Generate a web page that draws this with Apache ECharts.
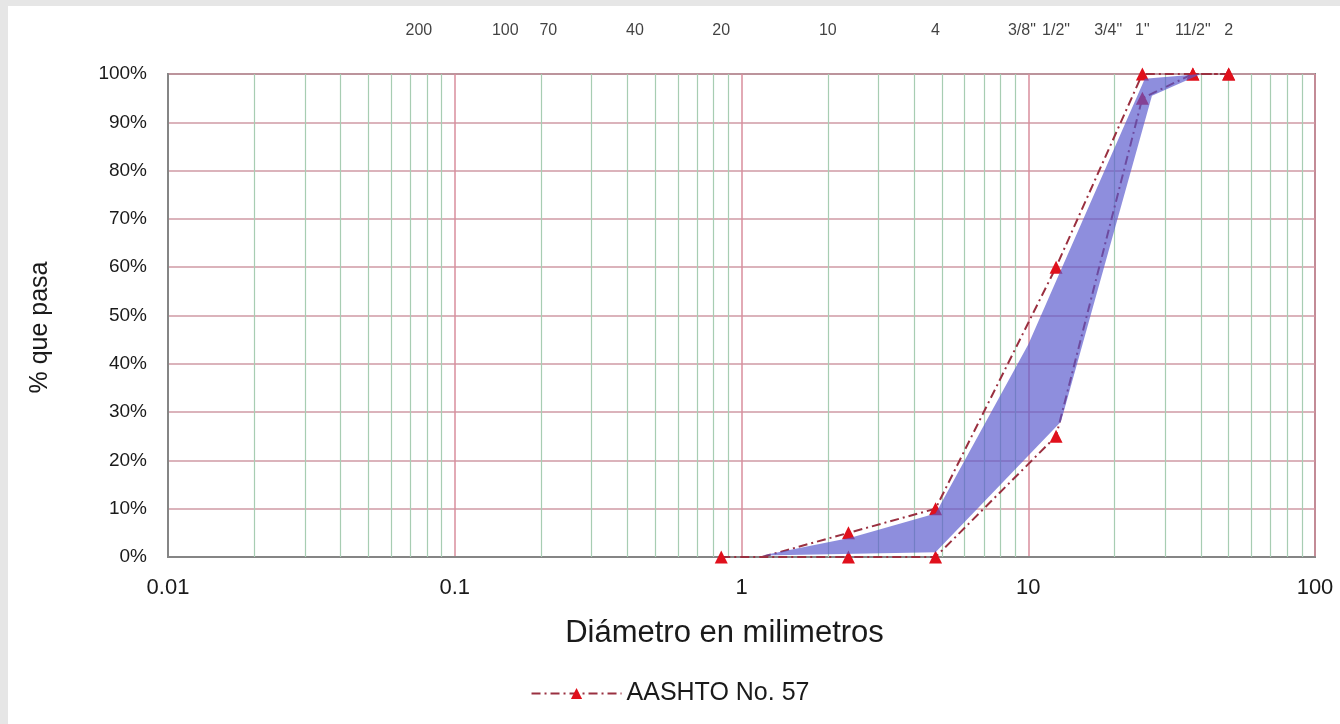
<!DOCTYPE html>
<html>
<head>
<meta charset="utf-8">
<script src="https://cdn.jsdelivr.net/npm/echarts@6/dist/echarts.min.js"></script>
<style>
  html, body { margin: 0; padding: 0; width: 1340px; height: 724px; background: #e6e6e6; overflow: hidden; }
  #paper { position: absolute; left: 8px; top: 6px; right: 0; bottom: 0; background: #ffffff; }
  #chart { position: absolute; left: 0; top: 0; width: 1340px; height: 724px; }
</style>
</head>
<body>
<div id="paper"></div>
<div id="chart"></div>
<script>
// ---- data ----
const sieveSizes  = [0.075, 0.15, 0.212, 0.425, 0.85, 2.0, 4.75, 9.5, 12.5, 19, 25, 37.5, 50];
const sieveLabels = ['200', '100', '70', '40', '20', '10', '4', '3/8"', '1/2"', '3/4"', '1"', '11/2"', '2'];

const upperX = [1.18, 2.36, 4.75, 12.5, 25, 37.5, 50];
const upperY = [0, 5, 10, 60, 100, 100, 100];
const lowerX = [0.85, 2.36, 4.75, 12.5, 25, 37.5, 50];
const lowerY = [0, 0, 0, 25, 95, 100, 100];

// shaded band (material gradation envelope)
const bandX = [1.18, 2.4, 4.75, 10, 25.5, 40, 27, 13, 4.75];
const bandY = [0.3, 4, 9, 44, 99, 100, 95.5, 28, 1];

const minorTicks = [];
[0.01, 0.1, 1, 10].forEach(function (d) {
  for (let k = 2; k <= 9; k++) minorTicks.push(+(d * k).toPrecision(6));
});

function pairs(xs, ys) { return xs.map(function (x, i) { return [x, ys[i]]; }); }

const FONT = 'Liberation Sans, Arial, sans-serif';
const lineColor = '#9a3040';
const markColor = '#e0101c';

const chart = echarts.init(document.getElementById('chart'), null, { renderer: 'canvas' });

const upperData = pairs(upperX, upperY).map(function (p, i) {
  return i === 0 ? { value: p, symbol: 'none' } : { value: p };
});

const option = {
  backgroundColor: 'transparent',
  animation: false,
  textStyle: { fontFamily: FONT },
  grid: [
    { left: 168, right: 25, top: 74, bottom: 167, show: true, borderColor: '#858585', borderWidth: 2, backgroundColor: 'transparent' },
    { left: 168, right: 25, top: 18, height: 26, show: false }
  ],
  xAxis: [
    {
      type: 'log', logBase: 10, min: 0.01, max: 100, gridIndex: 0,
      name: 'Diámetro en milimetros', nameLocation: 'middle', nameGap: 61,
      nameTextStyle: { fontSize: 31, color: '#1a1a1a', fontFamily: FONT, padding: [0, 34, 0, 0] },
      axisLine: { show: true, lineStyle: { color: '#858585', width: 2 } },
      axisTick: { show: false },
      axisLabel: {
        fontSize: 22, color: '#1a1a1a', margin: 20, fontFamily: FONT,
        formatter: function (v) { return String(+Number(v).toPrecision(6)); }
      },
      splitLine: { show: true, lineStyle: { color: '#d98e9d', width: 1.5 } },
      minorTick: { show: false }, minorSplitLine: { show: false }
    },
    {
      type: 'log', logBase: 10, min: 0.01, max: 100, gridIndex: 1, show: false
    }
  ],
  yAxis: [
    {
      type: 'value', min: 0, max: 100, interval: 10, gridIndex: 0,
      name: '% que pasa', nameLocation: 'middle', nameGap: 115, nameRotate: 90,
      nameTextStyle: { fontSize: 25, color: '#1a1a1a', fontFamily: FONT, padding: [0, 24, 0, 0] },
      axisLine: { show: true, lineStyle: { color: '#858585', width: 2 } },
      axisTick: { show: false },
      axisLabel: { fontSize: 19, color: '#1a1a1a', margin: 21, formatter: '{value}%', fontFamily: FONT },
      splitLine: { show: true, lineStyle: { color: '#cf9aa4', width: 1.5 } }
    },
    { type: 'value', min: 0, max: 1, gridIndex: 1, show: false }
  ],
  legend: {
    data: ['AASHTO No. 57'],
    left: 'center', top: 676,
    itemWidth: 90, itemHeight: 14, itemGap: 10,
    textStyle: { fontSize: 25, color: '#1a1a1a', fontFamily: FONT }
  },
  series: [
    {
      name: 'AASHTO No. 57', type: 'line', xAxisIndex: 0, yAxisIndex: 0,
      data: pairs(lowerX, lowerY),
      symbol: 'triangle', symbolSize: 13, showAllSymbol: true,
      itemStyle: { color: markColor },
      lineStyle: { color: lineColor, width: 2, type: [9, 4, 2, 4] },
      z: 2,
      markLine: {
        silent: true, symbol: 'none', animation: false,
        label: { show: false },
        lineStyle: { color: '#a7cdb2', width: 1.2, type: 'solid' },
        data: minorTicks.map(function (v) { return { xAxis: v }; }),
        z: 1
      }
    },
    {
      name: 'AASHTO No. 57', type: 'line', xAxisIndex: 0, yAxisIndex: 0,
      data: upperData,
      symbol: 'triangle', symbolSize: 13, showAllSymbol: true,
      itemStyle: { color: markColor },
      lineStyle: { color: lineColor, width: 2, type: [9, 4, 2, 4] },
      z: 2
    },
    {
      name: 'band', type: 'custom', xAxisIndex: 0, yAxisIndex: 0,
      data: [[bandX[0], bandY[0]]],
      silent: true, z: 4,
      renderItem: function (params, api) {
        const pts = bandX.map(function (x, i) { return api.coord([x, bandY[i]]); });
        return {
          type: 'polygon',
          shape: { points: pts },
          style: { fill: 'rgba(88,88,205,0.68)', stroke: 'none' }
        };
      }
    },
    {
      name: 'sieves', type: 'scatter', xAxisIndex: 1, yAxisIndex: 1,
      data: sieveSizes.map(function (s, i) { return { value: [s, 0.5], name: sieveLabels[i] }; }),
      symbol: 'circle', symbolSize: 2, itemStyle: { color: 'rgba(255,255,255,0)' }, silent: true,
      label: {
        show: true, position: 'inside', formatter: '{b}',
        fontSize: 16, color: '#111111',
        fontFamily: FONT
      }
    }
  ]
};
chart.setOption(option);
</script>
</body>
</html>
